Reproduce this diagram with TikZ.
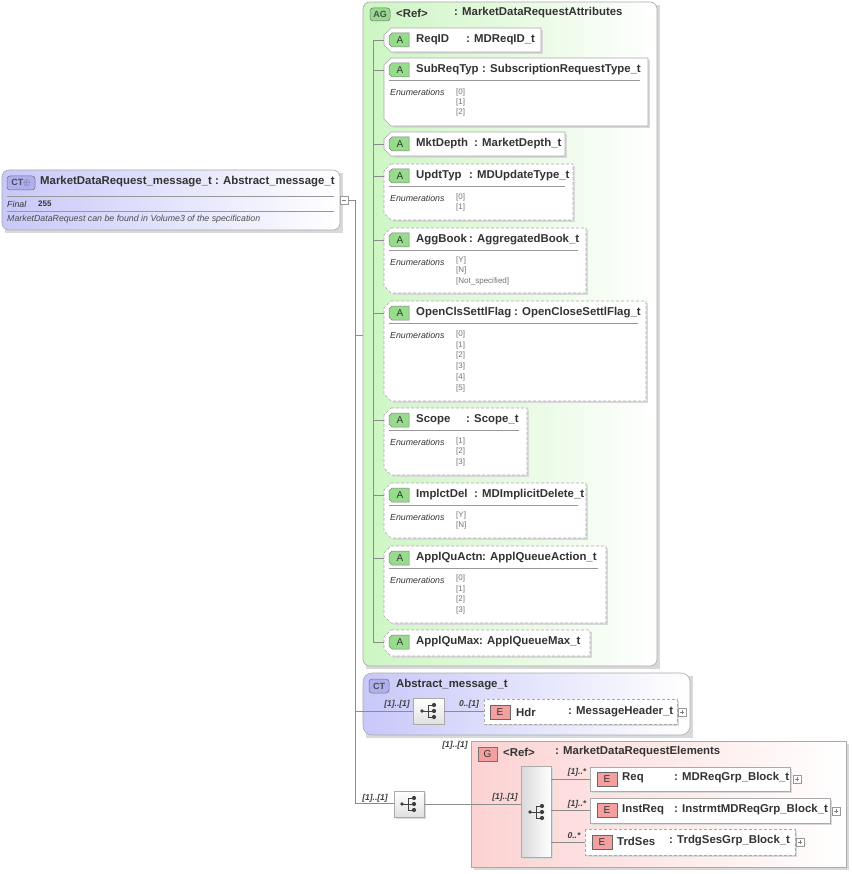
\documentclass[tikz,border=0pt]{standalone}
\usepackage{fontspec}
\setmainfont{Liberation Sans}
\begin{document}
\definecolor{grn}{RGB}{205,245,195}
\definecolor{grntag}{RGB}{150,220,140}
\definecolor{pur}{RGB}{200,200,250}
\definecolor{purtag}{RGB}{175,175,240}
\definecolor{pnk}{RGB}{252,210,210}
\definecolor{pnktag}{RGB}{245,160,160}
\definecolor{edge}{RGB}{170,170,170}
\begin{tikzpicture}[x=1pt,y=-1pt,
  every node/.style={inner sep=0pt,font=\fontsize{11.4}{12}\selectfont\bfseries,text=black!80},
  en/.style={font=\fontsize{8.8}{10}\selectfont\itshape,text=black!80,anchor=west},
  ev/.style={font=\fontsize{8}{9}\selectfont,text=black!55,anchor=west},
  card/.style={font=\fontsize{8.5}{9}\selectfont\itshape\bfseries,text=black!75},
  conn/.style={draw=black!45,line width=0.6pt},
  bx/.style={draw=edge,line width=0.6pt},
  dsh/.style={dash pattern=on 3pt off 2pt}]
\useasboundingbox (0,0) rectangle (851,874);

\newcommand\attrbox[7]{%
  \fill[black!15] (393,{#2+2}) -- ({#1+2},{#2+2}) -- ({#1+2},{#3+2}) -- (393,{#3+2}) -- cycle;
  \draw[bx,#4,fill=white] (391,#2) -- (#1,#2) -- (#1,#3) -- (391,#3) -- (384,{#3-7}) -- (384,{#2+7}) -- cycle;
  \draw[draw=black!50,fill=grntag,line width=0.5pt] (392,{#2+5}) -- (409,{#2+5}) -- (409,{#2+19}) -- (392,{#2+19}) -- (389,{#2+16}) -- (389,{#2+8}) -- cycle;
  \node[font=\fontsize{10}{10}\selectfont] at (400,{#2+12}) {A};
  \node[anchor=west] at (416,{#2+12}) {#5};
  \node[anchor=west] at (#6,{#2+12}) {: #7};
  \draw[conn] (373,{#2+12}) -- (384,{#2+12});
}
\newcommand\sepline[2]{\draw[black!40,line width=0.5pt] (389,{#1+22}) -- ({#2-8},{#1+22});
  \node[en] at (390,{#1+34}) {Enumerations};}
\newcommand\eltag[2]{%
  \draw[draw=black!60,fill=pnktag,line width=0.5pt] (#1,#2) rectangle ({#1+20},{#2+14});
  \node[font=\fontsize{10}{10}\selectfont] at ({#1+10},{#2+7}) {E};}
\newcommand\plusbox[2]{\draw[black!40,fill=white,line width=0.4pt] (#1,#2) rectangle ({#1+8},{#2+8});
  \draw[black!50,line width=0.4pt] ({#1+2},{#2+4}) -- ({#1+6},{#2+4}) ({#1+4},{#2+2}) -- ({#1+4},{#2+6});}
\newcommand\seqicon[2]{%
  \fill[black!75] ({#1-7},#2) circle (1.8);
  \draw[black!75,line width=0.9pt] ({#1-7},#2) -- ({#1-1},#2) ({#1-1},{#2-6}) -- ({#1-1},{#2+6}) ({#1-1},{#2-6}) -- ({#1+5},{#2-6}) ({#1-1},#2) -- ({#1+5},#2) ({#1-1},{#2+6}) -- ({#1+5},{#2+6});
  \foreach \yy in {-6,0,6} \fill[black!75] ({#1+5},{#2+\yy}) circle (2.1);}

% ---- main CT box
\fill[black!15] (5,173) rectangle (343,233);
\draw[bx,left color=pur,right color=white,rounded corners=7pt] (2,170) rectangle (340,230);
\draw[draw=black!55,fill=purtag,rounded corners=3pt,line width=0.5pt] (7,176) rectangle (35,190);
\node[font=\fontsize{9}{9}\selectfont\bfseries,text=black!70] at (21,183) {CT$\oplus$};
\node[anchor=west] (main) at (40,182) {MarketDataRequest\_message\_t : Abstract\_message\_t};
\draw[black!40,line width=0.5pt] (7,196) -- (334,196) (7,211) -- (334,211);
\node[en] at (7,204) {Final};
\node[anchor=west,font=\fontsize{8}{9}\selectfont\bfseries] at (38,203.5) {255};
\node[en,text=black!70] at (7,219) {MarketDataRequest can be found in Volume3 of the specification};
\draw[black!40,fill=white,line width=0.4pt] (340,196) rectangle (348,204);
\draw[black!50,line width=0.4pt] (342,200) -- (346,200);
\coordinate (trunk) at (355,200);
\draw[conn] (348,200) -- (trunk) -- (355,803);

% ---- AG group
\fill[black!15] (366,5) rectangle (660,669);
\draw[bx,left color=grn,right color=white,rounded corners=7pt] (363,2) rectangle (657,666);
\draw[conn] (355,335) -- (363,335);
\draw[draw=black!55,fill=grntag,rounded corners=3pt,line width=0.5pt] (370,8) rectangle (390,21);
\node[font=\fontsize{9}{9}\selectfont\bfseries,text=black!70] at (380,14.5) {AG};
\node[anchor=west] at (396,13) {<Ref>};
\node[anchor=west] at (454,13) {: MarketDataRequestAttributes};
\draw[conn] (373,40) -- (373,642);

\attrbox{541}{28}{52}{}{ReqID}{466}{MDReqID\_t}
\attrbox{648}{58}{126}{}{SubReqTyp}{482}{SubscriptionRequestType\_t}
\sepline{58}{648}
\node[ev] at (456,92) {[0]}; \node[ev] at (456,102) {[1]}; \node[ev] at (456,112) {[2]};
\attrbox{565}{132}{156}{}{MktDepth}{474}{MarketDepth\_t}
\attrbox{573}{164}{220}{dsh}{UpdtTyp}{469}{MDUpdateType\_t}
\sepline{164}{573}
\node[ev] at (456,197) {[0]}; \node[ev] at (456,207) {[1]};
\attrbox{586}{228}{293}{dsh}{AggBook}{469}{AggregatedBook\_t}
\sepline{228}{586}
\node[ev] at (456,260) {[Y]}; \node[ev] at (456,270) {[N]}; \node[ev] at (456,281) {[Not\_specified]};
\attrbox{646}{301}{401}{dsh}{OpenClsSettlFlag}{514}{OpenCloseSettlFlag\_t}
\sepline{301}{646}
\foreach \v/\yy in {0/334,1/345,2/355,3/366,4/377,5/388} \node[ev] at (456,\yy) {[\v]};
\attrbox{527}{408}{475}{dsh}{Scope}{466}{Scope\_t}
\sepline{408}{527}
\node[ev] at (456,441) {[1]}; \node[ev] at (456,451) {[2]}; \node[ev] at (456,462) {[3]};
\attrbox{586}{483}{538}{dsh}{ImplctDel}{474}{MDImplicitDelete\_t}
\sepline{483}{586}
\node[ev] at (456,515) {[Y]}; \node[ev] at (456,525) {[N]};
\attrbox{606}{546}{623}{dsh}{ApplQuActn}{482}{ApplQueueAction\_t}
\sepline{546}{606}
\foreach \v/\yy in {0/578,1/589,2/599,3/610} \node[ev] at (456,\yy) {[\v]};
\attrbox{590}{630}{656}{dsh}{ApplQuMax}{479}{ApplQueueMax\_t}

% ---- Abstract_message_t
\fill[black!15] (366,676) rectangle (693,738);
\draw[bx,left color=pur,right color=white,rounded corners=9pt] (363,673) rectangle (690,735);
\draw[draw=black!55,fill=purtag,rounded corners=3pt,line width=0.5pt] (369,679) rectangle (389,693);
\node[font=\fontsize{9}{9}\selectfont\bfseries,text=black!70] at (379,686) {CT};
\node[anchor=west] at (396,685) {Abstract\_message\_t};
\draw[conn] (355,711) -- (413,711);
\fill[black!15] (415,700) rectangle (446,726);
\draw[bx,top color=white,bottom color=black!12] (413,698) rectangle (444,724);
\seqicon{429}{711}
\node[card] at (397,704) {[1]..[1]};
\draw[conn] (444,711) -- (484,711);
\node[card] at (469,704) {0..[1]};
\fill[black!15] (486,701) rectangle (679,726);
\draw[bx,dsh,fill=white] (484,699) rectangle (677,724);
\eltag{490}{705}
\node[anchor=west] at (516,712) {Hdr};
\node[anchor=west] at (568,712) {: MessageHeader\_t};
\plusbox{678}{708}

% ---- bottom branch
\draw[conn] (355,803) -- (394,803);
\node[card] at (375,798) {[1]..[1]};
\fill[black!15] (396,793) rectangle (426,819);
\draw[bx,top color=white,bottom color=black!12] (394,791) rectangle (424,817);
\seqicon{409}{804}

% ---- G group
\fill[black!15] (474,744) rectangle (849,870);
\draw[bx,left color=pnk,right color=white] (471,741) rectangle (846,867);
\draw[conn] (424,804) -- (521,804);
\node[card] at (455,745) {[1]..[1]};
\draw[draw=black!55,fill=pnktag,line width=0.5pt] (478,747) rectangle (497,761);
\node[font=\fontsize{10}{10}\selectfont] at (487.5,754) {G};
\node[anchor=west] at (503,752) {<Ref>};
\node[anchor=west] at (555,752) {: MarketDataRequestElements};
\node[card] at (505,797) {[1]..[1]};
\fill[black!15] (523,768) rectangle (553,859);
\draw[bx,left color=black!15,right color=white] (521,766) rectangle (551,857);
\seqicon{537}{812}
\draw[conn] (551,779) -- (590,779) (551,810) -- (590,810) (551,842) -- (585,842);
\node[card] at (577,772) {[1]..*};
\node[card] at (577,804) {[1]..*};
\node[card] at (574,836) {0..*};
\fill[black!15] (592,769) rectangle (792,793);
\draw[bx,fill=white] (590,767) rectangle (790,791);
\eltag{597}{772}
\node[anchor=west] at (622,778) {Req};
\node[anchor=west] at (674,778) {: MDReqGrp\_Block\_t};
\plusbox{793}{775}
\fill[black!15] (592,800) rectangle (832,825);
\draw[bx,fill=white] (590,798) rectangle (830,823);
\eltag{597}{803}
\node[anchor=west] at (622,810) {InstReq};
\node[anchor=west] at (674,810) {: InstrmtMDReqGrp\_Block\_t};
\plusbox{832}{807}
\fill[black!15] (587,831) rectangle (797,857);
\draw[bx,dsh,fill=white] (585,829) rectangle (795,855);
\eltag{592}{835}
\node[anchor=west] at (617,841) {TrdSes};
\node[anchor=west] at (669,841) {: TrdgSesGrp\_Block\_t};
\plusbox{796}{838}
\end{tikzpicture}
\end{document}
